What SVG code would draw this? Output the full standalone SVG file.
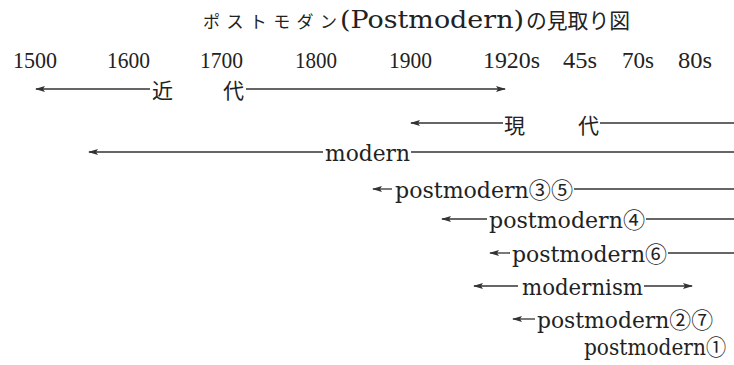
<svg xmlns="http://www.w3.org/2000/svg" width="734" height="365" viewBox="0 0 734 365">
<style>
.yr{font-family:"Liberation Serif",serif;font-size:24px;fill:#222}
.lb{font-family:"DejaVu Serif","Noto Sans CJK JP",serif;font-size:22px;fill:#222}
.kj{font-family:"Noto Sans CJK JP",serif;font-size:21px;fill:#222}
.ln{stroke:#333;stroke-width:1.3;fill:none}
</style>
<defs>
<marker id="ah" viewBox="0 0 10 6" refX="9" refY="3" markerWidth="10" markerHeight="6" markerUnits="userSpaceOnUse" orient="auto-start-reverse">
<path d="M0,0 L10,3 L0,6 L2,3 Z" fill="#333"/>
</marker>
</defs>
<rect width="734" height="365" fill="#fff"/>
<g id="title">
<text x="203" y="28" fill="#222"><tspan font-family="Noto Sans CJK JP,sans-serif" font-size="17" textLength="134" lengthAdjust="spacing">ポストモダン</tspan><tspan x="340" font-family="DejaVu Serif,serif" font-size="25" textLength="184" lengthAdjust="spacingAndGlyphs">(Postmodern)</tspan><tspan x="526" font-family="Noto Sans CJK JP,sans-serif" font-size="21" textLength="104" lengthAdjust="spacingAndGlyphs">の見取り図</tspan></text>
</g>
<g id="years">
<text class="yr" x="13" y="68" textLength="44" lengthAdjust="spacingAndGlyphs">1500</text>
<text class="yr" x="107" y="68" textLength="43" lengthAdjust="spacingAndGlyphs">1600</text>
<text class="yr" x="200" y="68" textLength="43" lengthAdjust="spacingAndGlyphs">1700</text>
<text class="yr" x="295" y="68" textLength="42" lengthAdjust="spacingAndGlyphs">1800</text>
<text class="yr" x="389" y="68" textLength="43" lengthAdjust="spacingAndGlyphs">1900</text>
<text class="yr" x="483" y="68" textLength="57" lengthAdjust="spacingAndGlyphs">1920s</text>
<text class="yr" x="563" y="68" textLength="34" lengthAdjust="spacingAndGlyphs">45s</text>
<text class="yr" x="622" y="68" textLength="32" lengthAdjust="spacingAndGlyphs">70s</text>
<text class="yr" x="678" y="68" textLength="34" lengthAdjust="spacingAndGlyphs">80s</text>
</g>
<g id="connectors">
<line class="ln" x1="150" y1="89" x2="36" y2="89" marker-end="url(#ah)"/>
<line class="ln" x1="246" y1="89" x2="505" y2="89" marker-end="url(#ah)"/>
<line class="ln" x1="503" y1="123" x2="411" y2="123" marker-end="url(#ah)"/>
<line class="ln" x1="600" y1="123" x2="734" y2="123"/>
<line class="ln" x1="323" y1="152" x2="89" y2="152" marker-end="url(#ah)"/>
<line class="ln" x1="411" y1="152" x2="734" y2="152"/>
<line class="ln" x1="392" y1="189" x2="373" y2="189" marker-end="url(#ah)"/>
<line class="ln" x1="574" y1="189" x2="734" y2="189"/>
<line class="ln" x1="487" y1="219" x2="442" y2="219" marker-end="url(#ah)"/>
<line class="ln" x1="646" y1="219" x2="734" y2="219"/>
<line class="ln" x1="510" y1="253" x2="490" y2="253" marker-end="url(#ah)"/>
<line class="ln" x1="668" y1="253" x2="734" y2="253"/>
<line class="ln" x1="518" y1="286" x2="474" y2="286" marker-end="url(#ah)"/>
<line class="ln" x1="644" y1="286" x2="692" y2="286" marker-end="url(#ah)"/>
<line class="ln" x1="535" y1="319" x2="513" y2="319" marker-end="url(#ah)"/>
</g>
<g id="kindai">
<text class="kj" x="152" y="98" font-size="22">近</text>
<text class="kj" x="223" y="98" font-size="22">代</text>
</g>
<g id="gendai">
<text class="kj" x="504" y="133">現</text>
<text class="kj" x="578" y="133">代</text>
</g>
<g id="modern"><text class="lb" x="325" y="161" textLength="85" lengthAdjust="spacingAndGlyphs">modern</text></g>
<g id="pm35"><text class="lb" x="395" y="198" textLength="178" lengthAdjust="spacingAndGlyphs">postmodern③⑤</text></g>
<g id="pm4"><text class="lb" x="489" y="228" textLength="156" lengthAdjust="spacingAndGlyphs">postmodern④</text></g>
<g id="pm6"><text class="lb" x="512" y="262" textLength="155" lengthAdjust="spacingAndGlyphs">postmodern⑥</text></g>
<g id="modernism"><text class="lb" x="522" y="295" textLength="121" lengthAdjust="spacingAndGlyphs">modernism</text></g>
<g id="pm27"><text class="lb" x="537" y="328" textLength="176" lengthAdjust="spacingAndGlyphs">postmodern②⑦</text></g>
<g id="pm1"><text class="lb" x="584" y="355" font-size="21" textLength="142" lengthAdjust="spacingAndGlyphs">postmodern①</text></g>
</svg>
